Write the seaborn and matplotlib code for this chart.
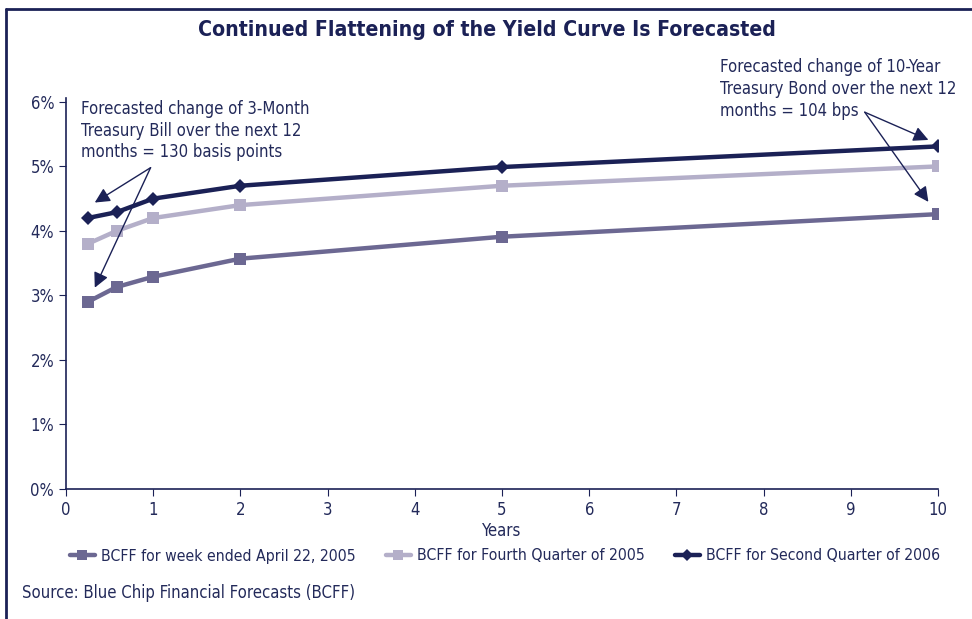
import matplotlib
matplotlib.use("Agg")
import matplotlib.pyplot as plt
import seaborn as sns
import pandas as pd
from matplotlib.lines import Line2D

# data
years = [0.25, 0.58, 1, 2, 5, 10]
week_apr22_2005 = [2.90, 3.13, 3.29, 3.57, 3.91, 4.26]
q4_2005 = [3.80, 4.00, 4.20, 4.40, 4.70, 5.00]
q2_2006 = [4.20, 4.29, 4.50, 4.70, 4.99, 5.31]
series_names = ["BCFF for week ended April 22, 2005",
                "BCFF for Fourth Quarter of 2005",
                "BCFF for Second Quarter of 2006"]
y_ticks = [0, 1, 2, 3, 4, 5, 6]
x_ticks = list(range(0, 11))

navy = "#1b2156"
text_col = "#232a5a"
colors = ["#6c6892", "#b4afc9", navy]

sns.set_style("white")
plt.rcParams["font.family"] = ["DejaVu Sans"]
plt.rcParams["font.stretch"] = "condensed"

df = pd.DataFrame({
    "Years": years * 3,
    "Yield": week_apr22_2005 + q4_2005 + q2_2006,
    "Series": [series_names[0]] * 6 + [series_names[1]] * 6 + [series_names[2]] * 6,
})

fig = plt.figure(figsize=(9.72, 6.19), dpi=100)
ax = fig.add_axes([66 / 972, 1 - 489 / 619, (938 - 66) / 972, (489 - 98) / 619])

sns.lineplot(data=df, x="Years", y="Yield", hue="Series", style="Series",
             palette=dict(zip(series_names, colors)),
             markers={series_names[0]: "s", series_names[1]: "s", series_names[2]: "D"},
             dashes=False, linewidth=3.2, markersize=9, markeredgewidth=0,
             ax=ax, legend=False)
# diamonds a touch smaller
ax.lines[2].set_markersize(7.5)

ax.set_xlim(0, 10)
ax.set_ylim(0, 6.06)
ax.set_xticks(x_ticks)
ax.set_yticks(y_ticks)
ax.set_yticklabels([f"{v}%" for v in y_ticks])
ax.set_xlabel("Years", fontsize=12, color=text_col, labelpad=2)
ax.set_ylabel("")
for side in ["top", "right"]:
    ax.spines[side].set_visible(False)
for side in ["left", "bottom"]:
    ax.spines[side].set_color(navy)
    ax.spines[side].set_linewidth(1.2)
ax.tick_params(axis="both", direction="out", length=5, color=navy,
               labelsize=12, labelcolor=text_col, left=True, bottom=True)

# annotations
arrow = dict(arrowstyle="-|>,head_length=0.9,head_width=0.45", color=navy, lw=1, shrinkA=0, shrinkB=0)
ax.text(0.17, 6.03, "Forecasted change of 3-Month\nTreasury Bill over the next 12\nmonths = 130 basis points",
        fontsize=12, color=text_col, va="top", ha="left", linespacing=1.27)
ax.annotate("", xy=(0.33, 4.44), xytext=(0.97, 4.98), arrowprops=arrow)
ax.annotate("", xy=(0.33, 3.12), xytext=(0.97, 4.98), arrowprops=arrow)
ax.text(7.5, 6.68, "Forecasted change of 10-Year\nTreasury Bond over the next 12\nmonths = 104 bps",
        fontsize=12, color=text_col, va="top", ha="left", linespacing=1.27, clip_on=False)
ax.annotate("", xy=(9.89, 5.41), xytext=(9.16, 5.84), arrowprops=arrow, annotation_clip=False)
ax.annotate("", xy=(9.89, 4.45), xytext=(9.16, 5.84), arrowprops=arrow, annotation_clip=False)

# legend below the axes
handles = [Line2D([], [], color=c, lw=3.2, marker=m, markersize=ms, markeredgewidth=0)
           for c, m, ms in zip(colors, ["s", "s", "D"], [7, 7, 6])]
fig.legend(handles, series_names, loc="center", bbox_to_anchor=(505 / 972, 1 - 556 / 619),
           ncol=3, frameon=False, fontsize=11.3, handlelength=1.6, columnspacing=1.9,
           handletextpad=0.4, labelcolor=text_col)

fig.text(487 / 972, 1 - 30 / 619, "Continued Flattening of the Yield Curve Is Forecasted",
         ha="center", va="center", fontsize=15.2, fontweight="bold", color=navy)
fig.text(22 / 972, 1 - 593 / 619, "Source: Blue Chip Financial Forecasts (BCFF)",
         ha="left", va="center", fontsize=12, color=text_col)

# outer frame: top and left edges only
fig.add_artist(Line2D([6 / 972, 1], [1 - 8.5 / 619] * 2, transform=fig.transFigure, color=navy, lw=2))
fig.add_artist(Line2D([6 / 972] * 2, [0, 1 - 8.5 / 619], transform=fig.transFigure, color=navy, lw=2))

fig.savefig("out.png", dpi=100)
